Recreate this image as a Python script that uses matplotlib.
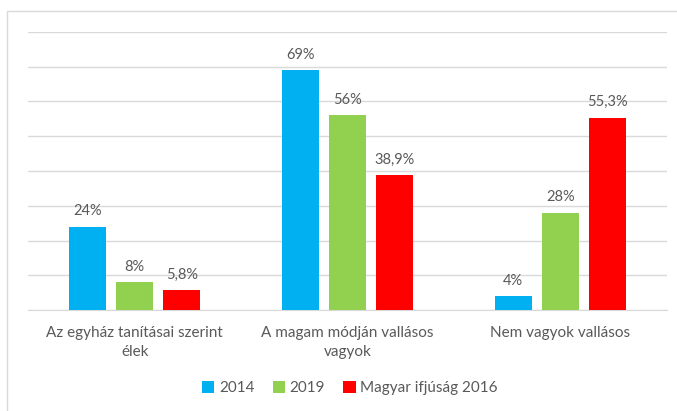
import matplotlib
matplotlib.use("Agg")
import matplotlib.pyplot as plt
import numpy as np
from matplotlib.patches import Rectangle

categories = ["Az egyház tanításai szerint\nélek",
              "A magam módján vallásos\nvagyok",
              "Nem vagyok vallásos"]
series_names = ["2014", "2019", "Magyar ifjúság 2016"]
values_2014 = [24, 69, 4]
values_2019 = [8, 56, 28]
values_2016 = [5.8, 38.9, 55.3]
labels_2014 = ["24%", "69%", "4%"]
labels_2019 = ["8%", "56%", "28%"]
labels_2016 = ["5,8%", "38,9%", "55,3%"]
colors = ["#00B0F0", "#92D050", "#FF0000"]

plt.rcParams['font.family'] = ['Lato', 'DejaVu Sans']
fig = plt.figure(figsize=(6.77, 4.11), dpi=100)
ax = fig.add_axes([28.3/677, 1-310.3/411, (666.7-28.3)/677, (310.3-31.7)/411])

# chart border
fig.patches.append(Rectangle((7.3/677, -0.1), 1.2, 1 - 10.7/411 + 0.1,
                             transform=fig.transFigure, fill=False,
                             edgecolor="#D9D9D9", linewidth=1.0))

x = np.arange(len(categories))
w = 0.174
stride = 0.222
text_color = "#595959"
all_vals = [values_2014, values_2019, values_2016]
all_labels = [labels_2014, labels_2019, labels_2016]
for i, (vals, labs, name, c) in enumerate(zip(all_vals, all_labels, series_names, colors)):
    pos = x + (i - 1) * stride
    ax.bar(pos, vals, width=w, color=c, label=name, zorder=3)
    for p, v, l in zip(pos, vals, labs):
        ax.annotate(l, (p, v), xytext=(0, 6), textcoords="offset points",
                    ha="center", va="bottom", fontsize=10.5, color=text_color)

ax.set_xlim(-0.5, 2.5)
ax.set_ylim(0, 80)
ax.set_yticks(np.arange(0, 81, 10))
ax.yaxis.grid(True, color="#D9D9D9", linewidth=1.0, zorder=0)
ax.tick_params(axis="y", left=False, labelleft=False)
ax.tick_params(axis="x", bottom=False, colors=text_color, labelsize=11, pad=8)
ax.set_xticks(x)
ax.set_xticklabels(categories, color=text_color, linespacing=1.4)
for s in ["top", "right", "left"]:
    ax.spines[s].set_visible(False)
ax.spines["bottom"].set_color("#D9D9D9")
ax.set_axisbelow(True)

leg = fig.legend(loc="center", bbox_to_anchor=(350/677, 1-388/411), ncol=3,
                 frameon=False, fontsize=11, handlelength=0.8, handleheight=0.8,
                 handletextpad=0.3, columnspacing=1.2)
for t in leg.get_texts():
    t.set_color(text_color)

fig.savefig("out.png", dpi=100)
